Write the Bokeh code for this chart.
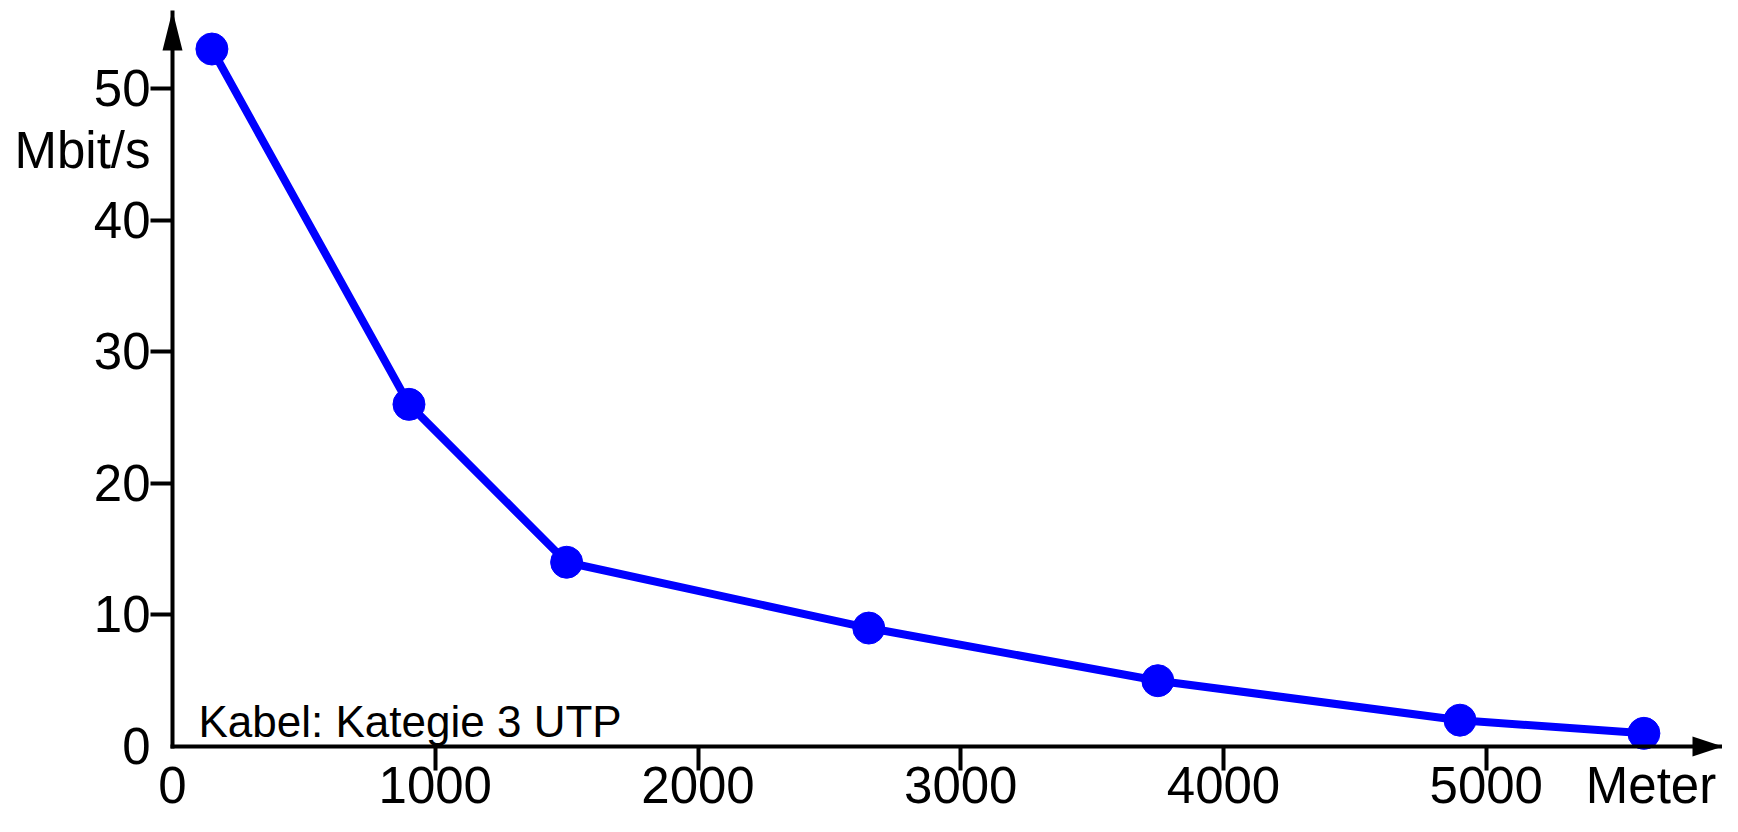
from bokeh.plotting import figure
from bokeh.models import Range1d, FixedTicker, Label, PolyAnnotation
from bokeh.embed import file_html
from bokeh.resources import INLINE

# ---- data ----
distance_m = [150, 900, 1500, 2650, 3750, 4900, 5600]
rate_mbit = [53, 26, 14, 9, 5, 2, 1]
x_ticks = [1000, 2000, 3000, 4000, 5000]
y_ticks = [10, 20, 30, 40, 50]
x_unit = "Meter"
y_unit = "Mbit/s"
x_unit_pos = 5627      # where the unit word sits along the x axis
y_unit_pos = 45.3      # where the unit word sits along the y axis
note = "Kabel: Kategie 3 UTP"

# ---- layout (pixels) ----
W, H = 1722, 816
X0 = 172              # y axis position
Y0 = 746              # x axis position
KX = 0.26275          # px per metre
KY = 13.16            # px per Mbit/s
FL, FT, FB = 160, 10, 757   # frame left / top / bottom
x_start = -(X0 - FL) / KX
x_end = (W - X0) / KX
y_end = (Y0 - FT) / KY
y_start = -(FB - Y0) / KY

FONT = "Liberation Sans"
BLUE = "#0000ff"

p = figure(width=W, height=H, output_backend="svg", toolbar_location=None,
           x_range=Range1d(x_start, x_end), y_range=Range1d(y_start, y_end),
           min_border_left=FL, min_border_right=0,
           min_border_top=FT, min_border_bottom=H - FB)
p.outline_line_color = None
p.grid.grid_line_color = None


def style_axis(ax, ticks, labels, tick_in, tick_out, standoff, bound_end):
    # labelled positions are major ticks (tick marks hidden);
    # the visible tick marks are the minor ticks
    ax.ticker = FixedTicker(ticks=sorted(labels), minor_ticks=ticks)
    ax.major_label_overrides = labels
    ax.bounds = (0, bound_end)
    ax.axis_line_color = None
    ax.major_tick_line_color = None
    ax.major_tick_out = int(tick_out)
    ax.major_tick_in = 0
    ax.minor_tick_line_color = "black"
    ax.minor_tick_line_width = 4
    ax.minor_tick_out = int(tick_out)
    ax.minor_tick_in = int(tick_in)
    ax.major_label_text_font = FONT
    ax.major_label_text_font_size = "51px"
    ax.major_label_text_color = "black"
    ax.major_label_standoff = int(standoff)


x_labels = {0: "0", **{t: str(t) for t in x_ticks}, x_unit_pos: x_unit}
y_labels = {0: "0", **{t: str(t) for t in y_ticks}, y_unit_pos: y_unit}
style_axis(p.below[0], x_ticks, x_labels, FB - Y0, 24 - (FB - Y0), -14, x_end)
style_axis(p.left[0], y_ticks, y_labels, X0 - FL, 22 - (X0 - FL), 0, y_end)

# data series
p.line(distance_m, rate_mbit, line_width=8, color=BLUE)
p.scatter(distance_m, rate_mbit, size=32, color=BLUE)

# visible axis lines (through the origin) and their arrow heads
p.segment(x0=[0, 0], y0=[0, 0], x1=[x_end, 0], y1=[0, y_end],
          line_width=4, line_color="black", line_cap="square")
hw_x = 10 / KX
len_y = 40 / KY
p.add_layout(PolyAnnotation(xs=[-hw_x, 0, hw_x], ys=[y_end - len_y, y_end, y_end - len_y],
                            fill_color="black", fill_alpha=1, line_color=None))
hw_y = 10 / KY
len_x = 30 / KX
p.add_layout(PolyAnnotation(xs=[x_end - len_x, x_end, x_end - len_x], ys=[-hw_y, 0, hw_y],
                            fill_color="black", fill_alpha=1, line_color=None))

# note inside the plot
p.add_layout(Label(x=26 / KX, y=25.5 / KY, text=note,
                   text_font=FONT, text_font_size="44px", text_color="black",
                   text_align="left", text_baseline="alphabetic"))

open("out.html", "w").write(file_html(p, INLINE))
